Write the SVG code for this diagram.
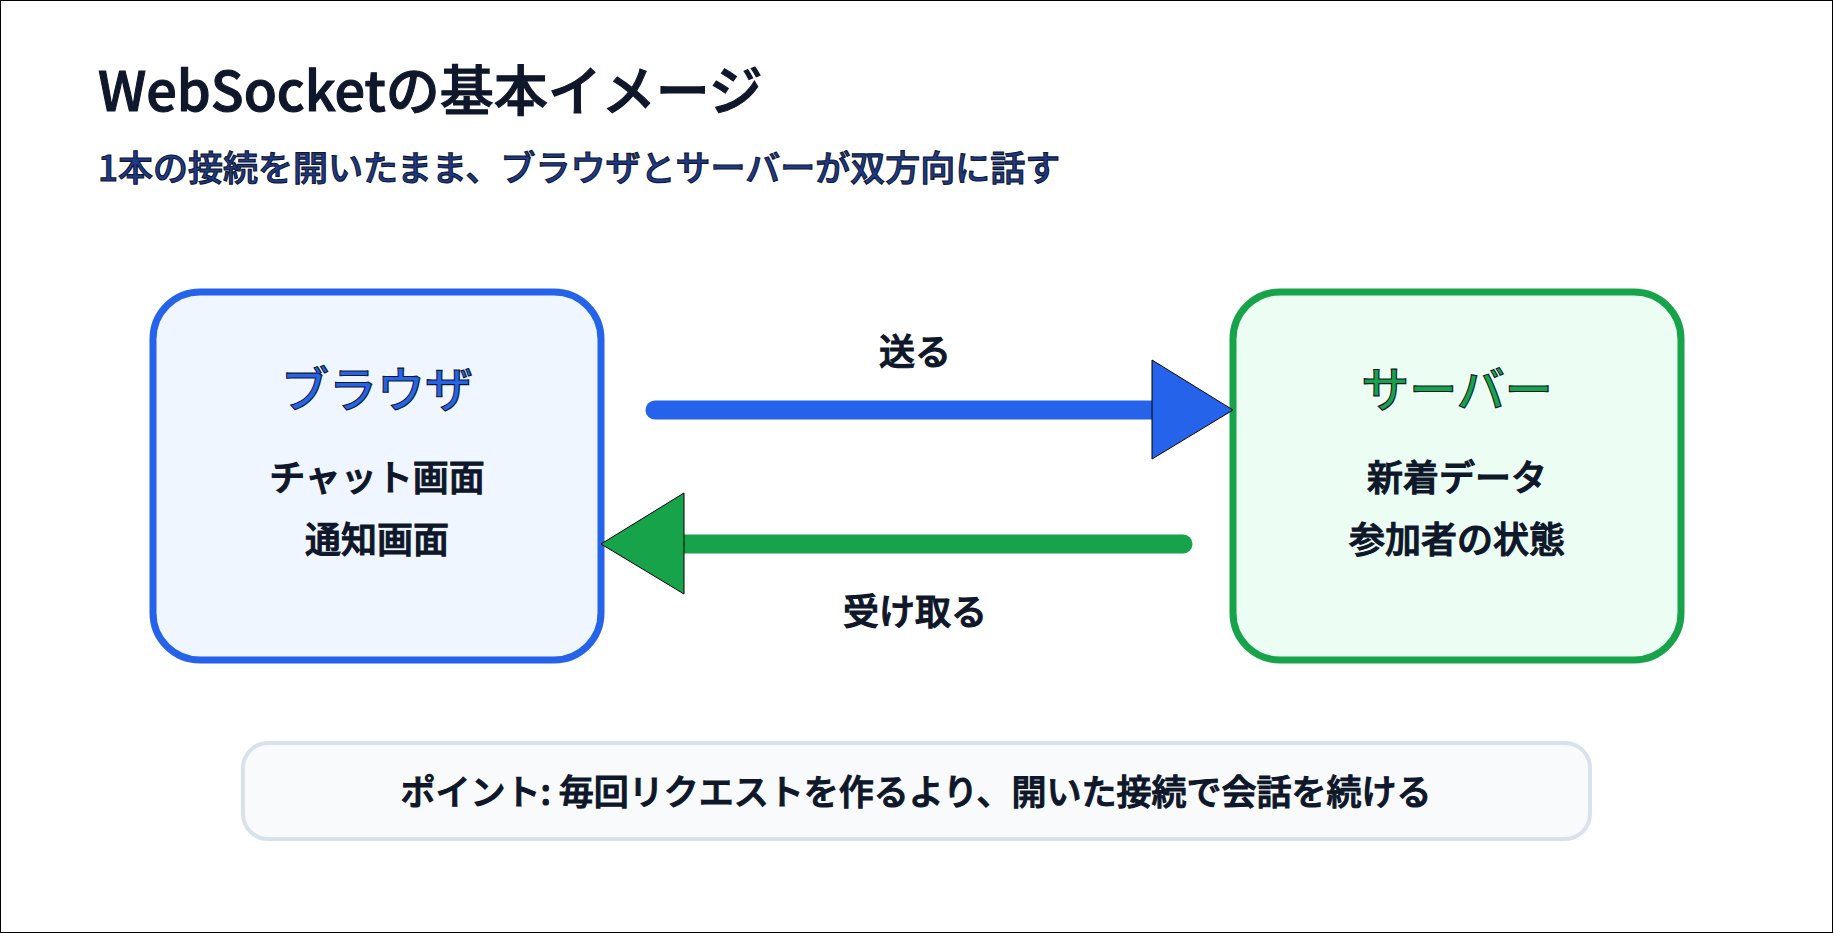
<svg xmlns="http://www.w3.org/2000/svg" width="1833" height="933" viewBox="0 0 1833 933">
<style>
text{font-family:"Noto Sans CJK JP","Noto Sans",sans-serif;font-weight:500;stroke:#0f172a;stroke-width:1.1}
.c{text-anchor:middle}
.lbl{font-size:36px;fill:#0f172a}
</style>
<rect x="0.5" y="0.5" width="1832" height="932" fill="#fff" stroke="#000" stroke-width="1"/>
<g id="title">
<text x="98" y="111" font-size="54" fill="#0f172a">WebSocketの基本イメージ</text>
<text x="98" y="181" font-size="35" fill="#1e3a8a">1本の接続を開いたまま、ブラウザとサーバーが双方向に話す</text>
</g>
<g id="browser">
<rect x="153" y="292" width="448" height="368" rx="47" fill="#eff6ff" stroke="#2563eb" stroke-width="7"/>
<text class="c" x="377" y="407" font-size="48" fill="#2563eb">ブラウザ</text>
<text class="c lbl" x="377" y="491">チャット画面</text>
<text class="c lbl" x="377" y="553">通知画面</text>
</g>
<g id="server">
<rect x="1233" y="292" width="448" height="368" rx="47" fill="#ecfdf3" stroke="#16a34a" stroke-width="7"/>
<text class="c" x="1457" y="407" font-size="48" fill="#16a34a">サーバー</text>
<text class="c lbl" x="1457" y="491">新着データ</text>
<text class="c lbl" x="1457" y="553">参加者の状態</text>
</g>
<g id="connectors">
<line x1="655" y1="410" x2="1160" y2="410" stroke="#2563eb" stroke-width="19" stroke-linecap="round"/>
<polygon points="1152,360 1233,410 1152,459" fill="#2563eb" stroke="#000" stroke-width="1"/>
<text class="c lbl" x="915" y="365" fill="#1e3a8a">送る</text>
<line x1="1183" y1="544" x2="680" y2="544" stroke="#16a34a" stroke-width="19" stroke-linecap="round"/>
<polygon points="684,493 601,544 684,594" fill="#16a34a" stroke="#000" stroke-width="1"/>
<text class="c lbl" x="915" y="625" fill="#166534">受け取る</text>
</g>
<g id="point">
<rect x="243" y="743" width="1347" height="96" rx="25" fill="#f8fafc" stroke="#d9e2ec" stroke-width="4"/>
<text class="c" x="916" y="805" font-size="35" fill="#0f172a">ポイント: 毎回リクエストを作るより、開いた接続で会話を続ける</text>
</g>
</svg>
